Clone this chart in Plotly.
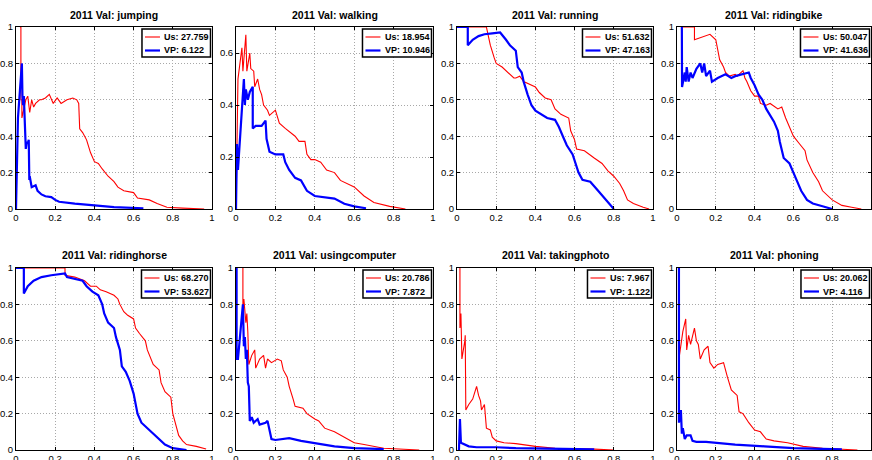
import plotly.graph_objects as go

classes = ["jumping", "walking", "running", "ridingbike",
           "ridinghorse", "usingcomputer", "takingphoto", "phoning"]
us_ap = ["27.759", "18.954", "51.632", "50.047", "68.270", "20.786", "7.967", "20.062"]
vp_ap = ["6.122", "10.946", "47.163", "41.636", "53.627", "7.872", "1.122", "4.116"]
y_max = [1, 0.7, 1, 1, 1, 1, 1, 1]
x_ticks = [0, 0.2, 0.4, 0.6, 0.8, 1]
x_tick_labels = ["0", "0.2", "0.4", "0.6", "0.8", "1"]

# ---- jumping ----
jumping_us_x = [0.02, 0.025, 0.025, 0.03, 0.03, 0.04, 0.05, 0.06, 0.07, 0.08, 0.09, 0.1, 0.12, 0.13, 0.15, 0.17, 0.18, 0.19, 0.21, 0.23, 0.26, 0.29, 0.31, 0.32, 0.325, 0.34, 0.36, 0.38, 0.4, 0.42, 0.44, 0.47, 0.5, 0.52, 0.55, 0.6, 0.62, 0.68, 0.72, 0.77, 0.85, 0.96]
jumping_us_y = [1.0, 1.0, 0.6, 0.6, 0.5, 0.56, 0.6, 0.62, 0.53, 0.6, 0.56, 0.58, 0.6, 0.6, 0.61, 0.63, 0.6, 0.58, 0.61, 0.58, 0.6, 0.61, 0.6, 0.58, 0.44, 0.42, 0.38, 0.31, 0.26, 0.25, 0.22, 0.18, 0.15, 0.12, 0.1, 0.09, 0.06, 0.05, 0.03, 0.01, 0.005, 0.0]
jumping_vp_x = [0.0, 0.01, 0.02, 0.03, 0.033, 0.036, 0.04, 0.045, 0.05, 0.055, 0.06, 0.065, 0.068, 0.07, 0.08, 0.1, 0.11, 0.13, 0.15, 0.18, 0.2, 0.22, 0.3, 0.4, 0.5, 0.65]
jumping_vp_y = [0.0, 0.5, 0.65, 0.8, 0.62, 0.57, 0.62, 0.4, 0.33, 0.37, 0.36, 0.38, 0.16, 0.18, 0.12, 0.13, 0.1, 0.08, 0.07, 0.065, 0.05, 0.04, 0.03, 0.02, 0.01, 0.004]

# ---- walking ----
walking_us_x = [0.0, 0.005, 0.01, 0.03, 0.035, 0.05, 0.055, 0.07, 0.075, 0.09, 0.095, 0.11, 0.12, 0.13, 0.14, 0.16, 0.17, 0.2, 0.22, 0.25, 0.3, 0.32, 0.35, 0.36, 0.38, 0.4, 0.43, 0.46, 0.5, 0.53, 0.58, 0.6, 0.65, 0.7, 0.78, 0.86]
walking_us_y = [0.0, 0.25, 0.5, 0.62, 0.53, 0.67, 0.53, 0.6, 0.54, 0.53, 0.47, 0.5, 0.46, 0.44, 0.4, 0.38, 0.36, 0.38, 0.33, 0.31, 0.28, 0.26, 0.26, 0.21, 0.19, 0.19, 0.18, 0.15, 0.14, 0.11, 0.09, 0.085, 0.05, 0.025, 0.01, 0.0]
walking_vp_x = [0.0, 0.005, 0.01, 0.03, 0.04, 0.045, 0.05, 0.06, 0.07, 0.085, 0.085, 0.1, 0.13, 0.15, 0.155, 0.17, 0.2, 0.24, 0.25, 0.27, 0.3, 0.33, 0.36, 0.4, 0.45, 0.5, 0.55, 0.6, 0.66]
walking_vp_y = [0.0, 0.25, 0.15, 0.4, 0.5, 0.4, 0.46, 0.42, 0.45, 0.47, 0.31, 0.32, 0.32, 0.34, 0.27, 0.22, 0.21, 0.21, 0.18, 0.15, 0.12, 0.11, 0.07, 0.05, 0.045, 0.04, 0.02, 0.01, 0.003]

# ---- running ----
running_us_x = [0.0, 0.15, 0.16, 0.17, 0.19, 0.2, 0.23, 0.26, 0.29, 0.3, 0.32, 0.34, 0.36, 0.4, 0.42, 0.45, 0.48, 0.5, 0.53, 0.57, 0.58, 0.6, 0.61, 0.65, 0.7, 0.74, 0.77, 0.8, 0.83, 0.85, 0.87, 0.9, 0.95, 0.98]
running_us_y = [1.0, 1.0, 0.95, 0.9, 0.83, 0.8, 0.78, 0.75, 0.72, 0.72, 0.73, 0.7, 0.69, 0.67, 0.64, 0.61, 0.6, 0.55, 0.52, 0.5, 0.43, 0.38, 0.33, 0.32, 0.28, 0.25, 0.21, 0.18, 0.14, 0.1, 0.05, 0.03, 0.01, 0.0]
running_vp_x = [0.0, 0.055, 0.055, 0.08, 0.11, 0.14, 0.18, 0.22, 0.25, 0.27, 0.3, 0.31, 0.33, 0.34, 0.36, 0.38, 0.4, 0.43, 0.46, 0.5, 0.52, 0.54, 0.56, 0.59, 0.62, 0.64, 0.68, 0.72, 0.76, 0.78, 0.8]
running_vp_y = [1.0, 1.0, 0.9, 0.93, 0.95, 0.96, 0.965, 0.97, 0.93, 0.9, 0.87, 0.78, 0.75, 0.7, 0.63, 0.57, 0.54, 0.52, 0.5, 0.49, 0.45, 0.4, 0.35, 0.3, 0.2, 0.16, 0.15, 0.1, 0.05, 0.02, 0.0]

# ---- ridingbike ----
ridingbike_us_x = [0.03, 0.09, 0.09, 0.17, 0.2, 0.21, 0.22, 0.24, 0.25, 0.27, 0.3, 0.31, 0.34, 0.35, 0.36, 0.38, 0.4, 0.42, 0.43, 0.46, 0.48, 0.52, 0.54, 0.56, 0.58, 0.6, 0.63, 0.66, 0.67, 0.7, 0.73, 0.75, 0.8, 0.85, 0.9, 0.95]
ridingbike_us_y = [1.0, 1.0, 0.93, 0.96, 0.93, 0.87, 0.82, 0.78, 0.75, 0.73, 0.74, 0.73, 0.76, 0.72, 0.7, 0.65, 0.62, 0.62, 0.58, 0.57, 0.58, 0.55, 0.56, 0.5, 0.45, 0.4, 0.36, 0.32, 0.27, 0.2, 0.15, 0.1, 0.05, 0.02, 0.01, 0.0]
ridingbike_vp_x = [0.025, 0.026, 0.04, 0.045, 0.05, 0.06, 0.07, 0.08, 0.1, 0.12, 0.13, 0.14, 0.15, 0.17, 0.18, 0.21, 0.25, 0.28, 0.3, 0.33, 0.37, 0.38, 0.4, 0.42, 0.44, 0.46, 0.49, 0.5, 0.52, 0.53, 0.55, 0.58, 0.6, 0.62, 0.64, 0.67, 0.7, 0.75, 0.8]
ridingbike_vp_y = [1.0, 0.67, 0.75, 0.7, 0.78, 0.7, 0.75, 0.72, 0.77, 0.8, 0.75, 0.8, 0.73, 0.76, 0.7, 0.72, 0.74, 0.72, 0.73, 0.74, 0.75, 0.72, 0.68, 0.63, 0.6, 0.55, 0.5, 0.48, 0.43, 0.37, 0.28, 0.25, 0.2, 0.15, 0.1, 0.05, 0.03, 0.015, 0.0]

# ---- ridinghorse ----
ridinghorse_us_x = [0.0, 0.25, 0.25, 0.3, 0.35, 0.38, 0.41, 0.43, 0.46, 0.5, 0.52, 0.53, 0.55, 0.57, 0.6, 0.61, 0.63, 0.66, 0.67, 0.7, 0.73, 0.74, 0.76, 0.79, 0.8, 0.82, 0.83, 0.85, 0.87, 0.92, 0.97]
ridinghorse_us_y = [1.0, 1.0, 0.96, 0.95, 0.93, 0.9, 0.9, 0.88, 0.87, 0.85, 0.83, 0.8, 0.76, 0.74, 0.72, 0.67, 0.64, 0.6, 0.55, 0.47, 0.44, 0.37, 0.32, 0.29, 0.2, 0.12, 0.08, 0.05, 0.03, 0.02, 0.005]
ridinghorse_vp_x = [0.0, 0.04, 0.04, 0.06, 0.09, 0.13, 0.18, 0.25, 0.26, 0.3, 0.34, 0.36, 0.39, 0.42, 0.44, 0.45, 0.47, 0.5, 0.51, 0.53, 0.54, 0.56, 0.58, 0.6, 0.61, 0.62, 0.64, 0.67, 0.7, 0.73, 0.76, 0.8, 0.87]
ridinghorse_vp_y = [1.0, 1.0, 0.86, 0.9, 0.93, 0.95, 0.96, 0.97, 0.95, 0.94, 0.93, 0.9, 0.87, 0.85, 0.8, 0.75, 0.7, 0.67, 0.62, 0.55, 0.46, 0.43, 0.38, 0.31, 0.25, 0.2, 0.15, 0.12, 0.09, 0.06, 0.03, 0.01, 0.0]

# ---- usingcomputer ----
usingcomputer_us_x = [0.035, 0.035, 0.04, 0.05, 0.055, 0.06, 0.065, 0.08, 0.095, 0.1, 0.12, 0.14, 0.15, 0.16, 0.18, 0.21, 0.23, 0.24, 0.26, 0.27, 0.29, 0.3, 0.34, 0.36, 0.4, 0.42, 0.45, 0.5, 0.55, 0.6, 0.65, 0.75, 0.93]
usingcomputer_us_y = [1.0, 0.75, 0.83, 0.7, 0.75, 0.65, 0.47, 0.52, 0.55, 0.45, 0.5, 0.52, 0.45, 0.5, 0.48, 0.5, 0.49, 0.44, 0.4, 0.35, 0.28, 0.24, 0.23, 0.2, 0.17, 0.16, 0.12, 0.1, 0.07, 0.04, 0.03, 0.01, 0.0]
usingcomputer_vp_x = [0.003, 0.003, 0.01, 0.035, 0.04, 0.045, 0.05, 0.055, 0.06, 0.065, 0.07, 0.08, 0.09, 0.11, 0.12, 0.15, 0.16, 0.17, 0.18, 0.2, 0.27, 0.33, 0.38, 0.45, 0.5, 0.6, 0.75]
usingcomputer_vp_y = [1.0, 0.5, 0.5, 0.8, 0.57, 0.62, 0.5, 0.55, 0.37, 0.35, 0.16, 0.18, 0.15, 0.17, 0.14, 0.15, 0.16, 0.1, 0.06, 0.055, 0.065, 0.05, 0.04, 0.03, 0.02, 0.01, 0.005]

# ---- takingphoto ----
takingphoto_us_x = [0.015, 0.015, 0.02, 0.025, 0.04, 0.042, 0.045, 0.06, 0.08, 0.1, 0.11, 0.12, 0.125, 0.14, 0.15, 0.17, 0.18, 0.2, 0.24, 0.3, 0.4, 0.5, 0.7, 0.8]
takingphoto_us_y = [1.0, 0.67, 0.75, 0.5, 0.6, 0.63, 0.22, 0.25, 0.28, 0.35, 0.3, 0.27, 0.22, 0.25, 0.12, 0.11, 0.07, 0.05, 0.04, 0.035, 0.02, 0.01, 0.005, 0.0]
takingphoto_vp_x = [0.01, 0.015, 0.02, 0.04, 0.06, 0.1, 0.2, 0.3, 0.5, 0.7]
takingphoto_vp_y = [0.0, 0.17, 0.04, 0.03, 0.02, 0.015, 0.015, 0.01, 0.005, 0.003]

# ---- phoning ----
phoning_us_x = [0.01, 0.03, 0.045, 0.05, 0.06, 0.07, 0.09, 0.1, 0.11, 0.12, 0.14, 0.16, 0.17, 0.19, 0.21, 0.24, 0.26, 0.28, 0.31, 0.32, 0.34, 0.37, 0.4, 0.43, 0.46, 0.5, 0.57, 0.65, 0.75, 0.93]
phoning_us_y = [0.5, 0.65, 0.72, 0.55, 0.63, 0.58, 0.67, 0.6, 0.58, 0.5, 0.55, 0.57, 0.48, 0.45, 0.47, 0.48, 0.4, 0.33, 0.3, 0.21, 0.2, 0.15, 0.11, 0.1, 0.06, 0.05, 0.04, 0.02, 0.01, 0.0]
phoning_vp_x = [0.01, 0.01, 0.02, 0.025, 0.03, 0.04, 0.05, 0.07, 0.08, 0.1, 0.15, 0.2, 0.3, 0.45, 0.6, 0.85]
phoning_vp_y = [1.0, 0.15, 0.22, 0.09, 0.12, 0.06, 0.08, 0.08, 0.05, 0.045, 0.045, 0.04, 0.03, 0.02, 0.01, 0.003]

series = {
    "jumping": (jumping_us_x, jumping_us_y, jumping_vp_x, jumping_vp_y),
    "walking": (walking_us_x, walking_us_y, walking_vp_x, walking_vp_y),
    "running": (running_us_x, running_us_y, running_vp_x, running_vp_y),
    "ridingbike": (ridingbike_us_x, ridingbike_us_y, ridingbike_vp_x, ridingbike_vp_y),
    "ridinghorse": (ridinghorse_us_x, ridinghorse_us_y, ridinghorse_vp_x, ridinghorse_vp_y),
    "usingcomputer": (usingcomputer_us_x, usingcomputer_us_y, usingcomputer_vp_x, usingcomputer_vp_y),
    "takingphoto": (takingphoto_us_x, takingphoto_us_y, takingphoto_vp_x, takingphoto_vp_y),
    "phoning": (phoning_us_x, phoning_us_y, phoning_vp_x, phoning_vp_y),
}

W, H = 872, 460
col_px = [(16, 212), (236, 433), (457, 653), (677, 871)]
row_px = [(27, 209), (268, 450)]
title_px = [15, 255]

FONT = "Liberation Sans, Arial, Helvetica, sans-serif"
LEG_FS = 9
# approximate Arial-bold advance widths (em) for legend sizing
_cw = {"U": 0.722, "V": 0.667, "P": 0.667, "s": 0.556, ":": 0.333, " ": 0.278, ".": 0.278}


def text_w(s, fs):
    return sum(_cw.get(ch, 0.556) for ch in s) * fs


def px(xp):
    return xp / W


def py(yp):
    return 1 - yp / H


fig = go.Figure()
annotations = []
shapes = []
layout = dict(
    width=W, height=H, margin=dict(l=0, r=0, t=0, b=0, autoexpand=False),
    paper_bgcolor="white", plot_bgcolor="white",
    font=dict(family=FONT, size=9, color="black"),
    showlegend=False,
)

for i, name in enumerate(classes):
    r, c = divmod(i, 4)
    x0, x1 = col_px[c]
    y0, y1 = row_px[r]
    k = "" if i == 0 else str(i + 1)
    ux, uy, vx, vy = series[name]
    us_label = f"Us: {us_ap[i]}"
    vp_label = f"VP: {vp_ap[i]}"
    fig.add_trace(go.Scatter(x=ux, y=uy, mode="lines", name=us_label,
                             line=dict(color="#ff0000", width=1.1),
                             xaxis="x" + k, yaxis="y" + k))
    fig.add_trace(go.Scatter(x=vx, y=vy, mode="lines", name=vp_label,
                             line=dict(color="#0000ff", width=2.2),
                             xaxis="x" + k, yaxis="y" + k))
    ax = dict(showline=True, linecolor="black", linewidth=1, mirror="ticks",
              ticks="inside", ticklen=3, tickcolor="black",
              showgrid=True, gridcolor="#a8a8a8", griddash="1px,2px", gridwidth=1,
              zeroline=False, tickfont=dict(size=9.5, family=FONT))
    layout["xaxis" + k] = dict(ax, domain=[px(x0), px(x1)], range=[0, 1],
                               tickvals=x_ticks, ticktext=x_tick_labels,
                               anchor="y" + k)
    ytv = [v for v in x_ticks if v <= y_max[i] + 1e-9]
    ytt = [x_tick_labels[j] for j, v in enumerate(x_ticks) if v <= y_max[i] + 1e-9]
    layout["yaxis" + k] = dict(ax, domain=[py(y1), py(y0)], range=[0, y_max[i]],
                               tickvals=ytv, ticktext=ytt, anchor="x" + k)

    # title
    annotations.append(dict(
        text=f"<b>2011 Val: {name}</b>", x=px((x0 + x1) / 2), y=py(title_px[r]),
        xref="paper", yref="paper", xanchor="center", yanchor="middle",
        showarrow=False, font=dict(size=10.5, family=FONT)))

    # legend box (drawn manually, MATLAB style)
    tw = max(text_w(us_label, LEG_FS), text_w(vp_label, LEG_FS))
    bw = 21 + tw + 3
    bx1 = x1 - 1.5
    bx0 = bx1 - bw
    by0 = y0 + 2
    by1 = by0 + 28
    shapes.append(dict(type="rect", xref="paper", yref="paper",
                       x0=px(bx0), x1=px(bx1), y0=py(by1), y1=py(by0),
                       fillcolor="white", line=dict(color="black", width=1.5), layer="above"))
    for row_i, (lab, col, lw) in enumerate([(us_label, "#ff0000", 1.1), (vp_label, "#0000ff", 2.2)]):
        yc = by0 + 8 + row_i * 13.5
        shapes.append(dict(type="line", xref="paper", yref="paper",
                           x0=px(bx0 + 3), x1=px(bx0 + 18), y0=py(yc), y1=py(yc),
                           line=dict(color=col, width=lw), layer="above"))
        annotations.append(dict(
            text=f"<b>{lab}</b>", x=px(bx0 + 20.5), y=py(yc), xref="paper", yref="paper",
            xanchor="left", yanchor="middle", showarrow=False,
            font=dict(size=LEG_FS, family=FONT)))

layout["annotations"] = annotations
layout["shapes"] = shapes
fig.update_layout(**layout)
fig.write_html("out.html", config={"displayModeBar": False},
               post_script="document.body.style.margin='0';document.body.style.overflow='hidden';")
